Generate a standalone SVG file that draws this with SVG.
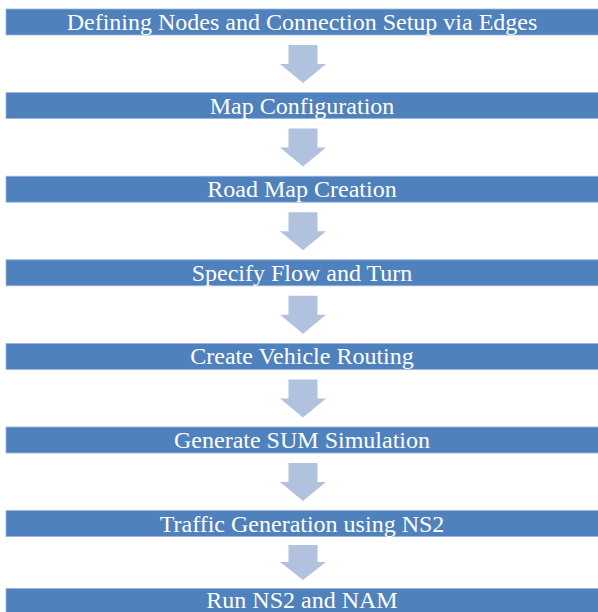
<svg xmlns="http://www.w3.org/2000/svg" width="598" height="612" viewBox="0 0 598 612">
<style>
.bar{fill:#4F81BD;stroke:#9DB5DA;stroke-width:0.8}
.lbl{font-size:24px;fill:#ffffff;text-anchor:middle}
.arr{fill:#B1C2DF}
</style>
<rect width="598" height="612" fill="#ffffff"/>
<g id="connectors">
<path class="arr" d="M288.5,45 H317.5 V64 H326 L303,83 L280,64 H288.5 Z"/>
<path class="arr" d="M288.5,128.6 H317.5 V147.6 H326 L303,166.6 L280,147.6 H288.5 Z"/>
<path class="arr" d="M288.5,212.2 H317.5 V231.2 H326 L303,250.2 L280,231.2 H288.5 Z"/>
<path class="arr" d="M288.5,295.8 H317.5 V314.8 H326 L303,333.8 L280,314.8 H288.5 Z"/>
<path class="arr" d="M288.5,379.4 H317.5 V398.4 H326 L303,417.4 L280,398.4 H288.5 Z"/>
<path class="arr" d="M288.5,463 H317.5 V482 H326 L303,501 L280,482 H288.5 Z"/>
<path class="arr" d="M288.5,545 H317.5 V562 H326 L303,580 L280,562 H288.5 Z"/>
</g>
<g font-family="'Liberation Serif', 'Times New Roman', 'DejaVu Serif', serif">
<g id="n1"><rect class="bar" x="6" y="9" width="600" height="26"/><text class="lbl" x="302" y="30">Defining Nodes and Connection Setup via Edges</text></g>
<g id="n2"><rect class="bar" x="6" y="92.6" width="600" height="26"/><text class="lbl" x="302" y="113.6">Map Configuration</text></g>
<g id="n3"><rect class="bar" x="6" y="176.2" width="600" height="26"/><text class="lbl" x="302" y="197.2">Road Map Creation</text></g>
<g id="n4"><rect class="bar" x="6" y="259.8" width="600" height="26"/><text class="lbl" x="302" y="280.8">Specify Flow and Turn</text></g>
<g id="n5"><rect class="bar" x="6" y="343.4" width="600" height="26"/><text class="lbl" x="302" y="364.4">Create Vehicle Routing</text></g>
<g id="n6"><rect class="bar" x="6" y="427" width="600" height="26"/><text class="lbl" x="302" y="448">Generate SUM Simulation</text></g>
<g id="n7"><rect class="bar" x="6" y="510.6" width="600" height="26"/><text class="lbl" x="302" y="531.6">Traffic Generation using NS2</text></g>
<g id="n8"><rect class="bar" x="6" y="588.5" width="600" height="26"/><text class="lbl" x="302" y="607.5">Run NS2 and NAM</text></g>
</g>
</svg>
